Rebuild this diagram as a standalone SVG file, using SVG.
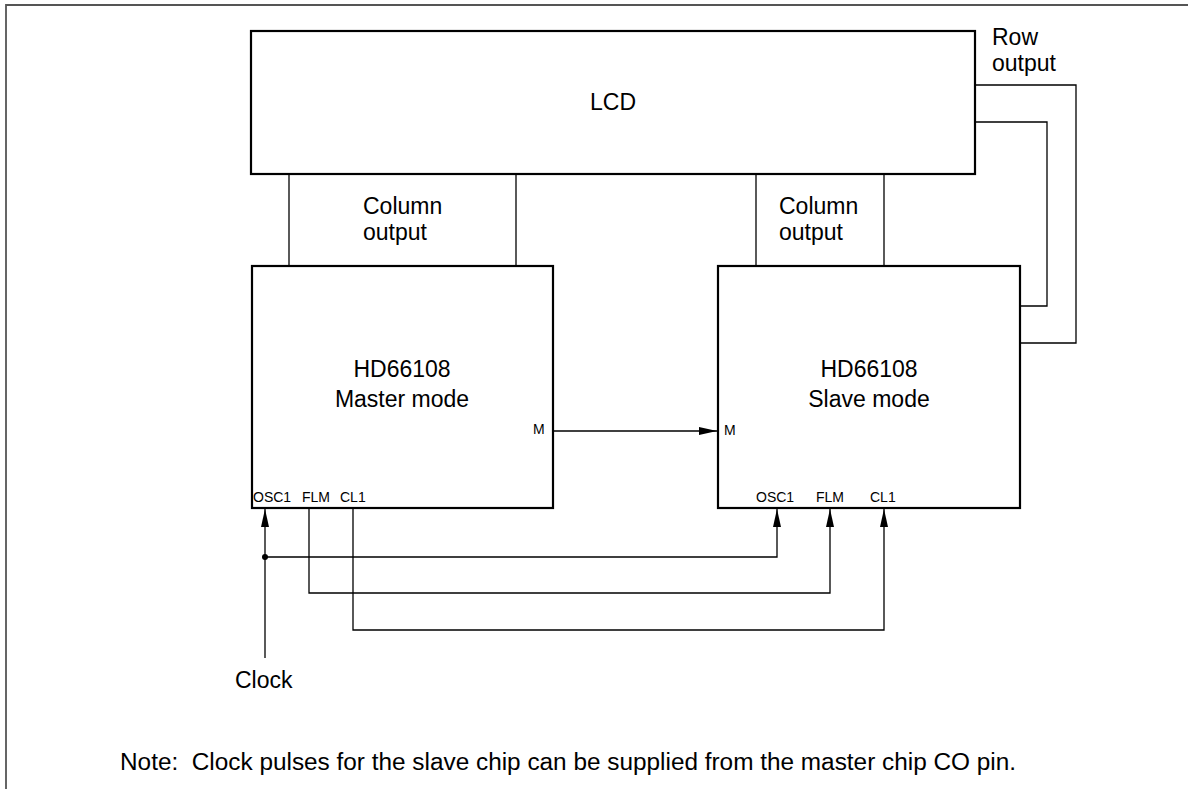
<svg xmlns="http://www.w3.org/2000/svg" width="1188" height="789" viewBox="0 0 1188 789">
<defs>
<style>
.box{fill:#fff;stroke:#000;stroke-width:2.2}
.w{fill:none;stroke:#000;stroke-width:1.3}
.frame{fill:none;stroke:#555;stroke-width:1.8}
.t{font-family:"Liberation Sans",Arial,sans-serif;font-size:23px;fill:#000}
.p{font-family:"Liberation Sans",Arial,sans-serif;font-size:14px;fill:#000}
.c{text-anchor:middle}
</style>
<marker id="ah" viewBox="0 0 10 10" refX="10" refY="5" markerWidth="8" markerHeight="16" markerUnits="userSpaceOnUse" orient="auto">
<path d="M0,0 L10,5 L0,10 z" fill="#000"/>
</marker>
<marker id="ahv" viewBox="0 0 18 8" refX="18" refY="4" markerWidth="18" markerHeight="8" markerUnits="userSpaceOnUse" orient="auto">
<path d="M0,0 L18,4 L0,8 z" fill="#000"/>
</marker>
</defs>
<rect width="1188" height="789" fill="#fff"/>
<path class="frame" d="M6,789 V5 H1188"/>

<g id="connectors">
<line class="w" x1="289" y1="174" x2="289" y2="266"/>
<line class="w" x1="516" y1="174" x2="516" y2="266"/>
<line class="w" x1="756" y1="174" x2="756" y2="266"/>
<line class="w" x1="884" y1="174" x2="884" y2="266"/>
<polyline class="w" points="975,85 1076,85 1076,343 1020,343"/>
<polyline class="w" points="975,122 1047,122 1047,306 1020,306"/>
<line class="w" x1="553" y1="431" x2="717" y2="431" marker-end="url(#ahv)"/>
<line class="w" x1="265" y1="658" x2="265" y2="509" marker-end="url(#ahv)"/>
<polyline class="w" points="265,557 777,557 777,509" marker-end="url(#ahv)"/>
<polyline class="w" points="309,508 309,593 830,593 830,509" marker-end="url(#ahv)"/>
<polyline class="w" points="353,508 353,630 884,630 884,509" marker-end="url(#ahv)"/>
<circle cx="265" cy="557" r="3" fill="#000"/>
</g>

<g id="lcd">
<rect class="box" x="251" y="31" width="724" height="143"/>
<text class="t c" x="613" y="110">LCD</text>
</g>

<g id="master">
<rect class="box" x="252" y="266" width="301" height="242"/>
<text class="t c" x="402" y="377">HD66108</text>
<text class="t c" x="402" y="407">Master mode</text>
<text class="p" x="533" y="434">M</text>
<text class="p" x="253" y="502">OSC1</text>
<text class="p" x="302" y="502">FLM</text>
<text class="p" x="340" y="502">CL1</text>
</g>

<g id="slave">
<rect class="box" x="718" y="266" width="302" height="242"/>
<text class="t c" x="869" y="377">HD66108</text>
<text class="t c" x="869" y="407">Slave mode</text>
<text class="p" x="724" y="435">M</text>
<text class="p" x="756" y="502">OSC1</text>
<text class="p" x="816" y="502">FLM</text>
<text class="p" x="870" y="502">CL1</text>
</g>

<g id="labels">
<text class="t" x="363" y="214">Column</text>
<text class="t" x="363" y="240">output</text>
<text class="t" x="779" y="214">Column</text>
<text class="t" x="779" y="240">output</text>
<text class="t" x="992" y="45">Row</text>
<text class="t" x="992" y="71">output</text>
<text class="t" x="235" y="688">Clock</text>
<text class="t" x="120" y="770" xml:space="preserve" textLength="896" lengthAdjust="spacingAndGlyphs">Note:  Clock pulses for the slave chip can be supplied from the master chip CO pin.</text>
</g>
</svg>
